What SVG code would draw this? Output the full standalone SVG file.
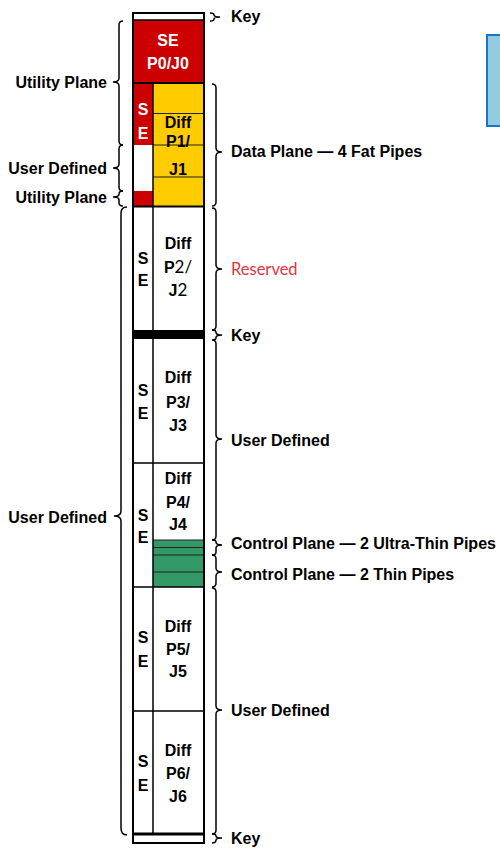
<svg xmlns="http://www.w3.org/2000/svg" width="500" height="848" viewBox="0 0 500 848">
<style>
.t{font-family:"Liberation Sans",Arial,sans-serif;font-weight:bold;font-size:16px;fill:#000}
.c{text-anchor:middle}
.e{text-anchor:end}
.w{fill:#fff}
.cal{font-family:Lato,"Open Sans",sans-serif;font-weight:normal;font-size:17px}
.res{font-family:Lato,"Open Sans",sans-serif;font-size:16.5px;fill:#e8333f}
.ln{stroke:#000;stroke-width:1.5;fill:none}
.thin{stroke:#222;stroke-width:1;fill:none}
.br{stroke:#000;stroke-width:1.5;fill:none}
</style>
<rect width="500" height="848" fill="#fff"/>
<g id="blue-box"><rect x="487" y="35" width="20" height="91" fill="#93cddd" stroke="#1a75c5" stroke-width="2"/></g>
<g id="stack">
<g id="key-top"><rect x="133" y="13" width="71" height="7" fill="#fff"/></g>
<g id="se-p0"><rect x="133" y="20" width="71" height="63" fill="#cc0000"/>
<text class="t c w" x="168" y="46">SE</text><text class="t c w" x="168" y="69">P0/J0</text></g>
<g id="se-1"><rect x="133" y="83" width="20" height="62" fill="#cc0000"/><rect x="133" y="191" width="20" height="15" fill="#cc0000"/>
<text class="t c w" x="143" y="115">S</text><text class="t c w" x="143" y="139">E</text></g>
<g id="diff-p1"><rect x="153" y="83" width="51" height="123" fill="#ffcc00"/>
<path class="thin" d="M153,113.5H204M153,145H204M153,177H204"/>
<text class="t c" x="178" y="128">Diff</text><text class="t c" x="178" y="147">P1/</text><text class="t c" x="178" y="175">J1</text></g>
<g id="p2"><text class="t c" x="143" y="264">S</text><text class="t c" x="143" y="286">E</text>
<text class="t c" x="178" y="249">Diff</text><text class="t c" x="178" y="273">P<tspan class="cal">2/</tspan></text><text class="t c" x="178" y="296">J<tspan class="cal">2</tspan></text></g>
<g id="key-mid"><rect x="133" y="330" width="71" height="9" fill="#000"/></g>
<g id="p3"><text class="t c" x="143" y="396">S</text><text class="t c" x="143" y="419">E</text>
<text class="t c" x="178" y="383">Diff</text><text class="t c" x="178" y="408">P3/</text><text class="t c" x="178" y="431">J3</text></g>
<g id="p4"><text class="t c" x="143" y="521">S</text><text class="t c" x="143" y="543">E</text>
<text class="t c" x="178" y="484">Diff</text><text class="t c" x="178" y="508">P4/</text><text class="t c" x="178" y="530">J4</text>
<rect x="153" y="540" width="51" height="47" fill="#339966"/>
<path class="thin" d="M153,540H204M153,547.5H204M153,555H204M153,572H204"/></g>
<g id="p5"><text class="t c" x="143" y="643">S</text><text class="t c" x="143" y="667">E</text>
<text class="t c" x="178" y="632">Diff</text><text class="t c" x="178" y="655">P5/</text><text class="t c" x="178" y="677">J5</text></g>
<g id="p6"><text class="t c" x="143" y="767">S</text><text class="t c" x="143" y="791">E</text>
<text class="t c" x="178" y="756">Diff</text><text class="t c" x="178" y="779">P6/</text><text class="t c" x="178" y="802">J6</text></g>
<g id="grid">
<path class="ln" d="M133,20H204"/>
<path d="M133,83H204M133,206.5H204" stroke="#000" stroke-width="2" fill="none"/>
<path class="ln" d="M153,83V206M153,207V834M133,463H204M133,587H204M133,711H204"/>
<path d="M133,834H204" stroke="#000" stroke-width="3" fill="none"/>
<rect x="133" y="13" width="71" height="830" fill="none" stroke="#000" stroke-width="2"/>
</g>
</g>
<g id="connectors">
<path class="br" d="M123,21 Q119,21 119,25 L119,78 Q119,82 113,82 Q119,82 119,86 L119,141 Q119,145 123,145"/>
<path class="br" d="M123,145 Q119,145 119,149 L119,164 Q119,168 113,168 Q119,168 119,172 L119,187 Q119,191 123,191"/>
<path class="br" d="M123,191 Q119,191 119,194 Q119,197 113,197 Q119,197 119,200 L119,203 Q119,206 123,206"/>
<path class="br" d="M127,207 Q121,207 121,213 L121,511 Q121,516 114,516 Q121,516 121,521 L121,828 Q121,835 127,835"/>
<path class="br" d="M210,13 Q214,13 214,15 Q214,17 220,17 Q214,17 214,19 Q214,21 210,21"/>
<path class="br" d="M212,84 Q216,84 216,88 L216,148 Q216,152 222,152 Q216,152 216,156 L216,202 Q216,206 212,206"/>
<path class="br" d="M212,208 Q216,208 216,212 L216,265 Q216,269 222,269 Q216,269 216,273 L216,326 Q216,330 212,330"/>
<path class="br" d="M212,330 Q216,330 216,332.5 Q216,335 222,335 Q216,335 216,337.5 Q216,340 212,340"/>
<path class="br" d="M212,340 Q216,340 216,344 L216,435 Q216,439 222,439 Q216,439 216,443 L216,536 Q216,540 212,540"/>
<path class="br" d="M212,540 Q216,540 216,542 Q216,545 222,545 Q216,545 216,548 L216,552 Q216,555 212,555"/>
<path class="br" d="M212,555 Q216,555 216,559 L216,568 Q216,572 222,572 Q216,572 216,576 L216,583 Q216,587 212,587"/>
<path class="br" d="M212,588 Q216,588 216,592 L216,706 Q216,710 222,710 Q216,710 216,714 L216,830 Q216,834 212,834"/>
<path class="br" d="M212,834 Q216,834 216,836 Q216,838 222,838 Q216,838 216,840 Q216,843 212,843"/>
</g>
<g id="labels">
<text class="t e" x="107" y="88">Utility Plane</text>
<text class="t e" x="107" y="174">User Defined</text>
<text class="t e" x="107" y="203">Utility Plane</text>
<text class="t e" x="107" y="523">User Defined</text>
<text class="t" x="231" y="22">Key</text>
<text class="t" x="231" y="157">Data Plane — 4 Fat Pipes</text>
<text class="res" x="231" y="275">Reserved</text>
<text class="t" x="231" y="341">Key</text>
<text class="t" x="231" y="446">User Defined</text>
<text class="t" x="231" y="549">Control Plane — 2 Ultra-Thin Pipes</text>
<text class="t" x="231" y="580">Control Plane — 2 Thin Pipes</text>
<text class="t" x="231" y="716">User Defined</text>
<text class="t" x="231" y="844">Key</text>
</g>
</svg>
